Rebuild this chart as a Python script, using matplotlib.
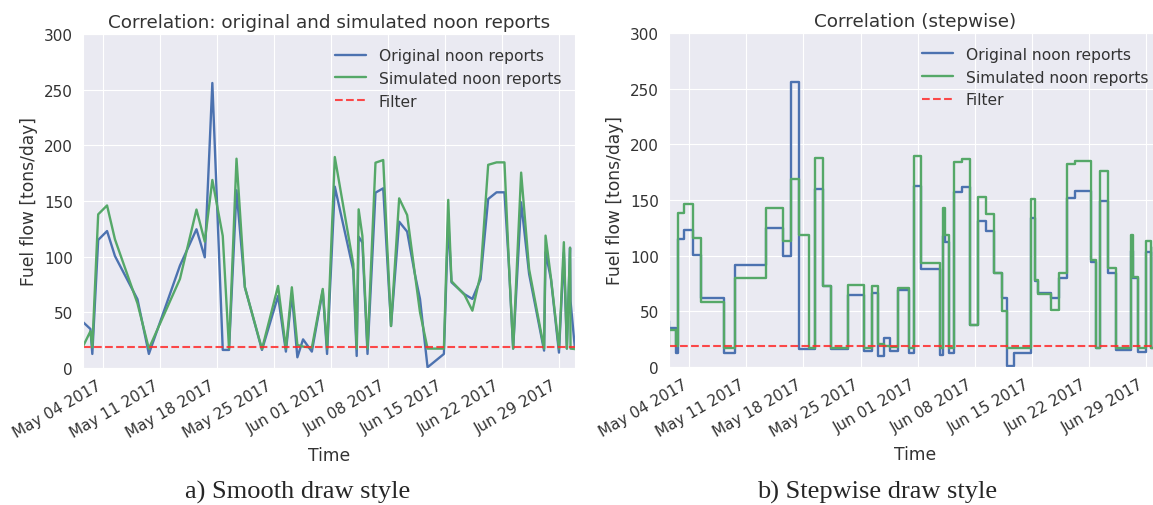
import matplotlib
matplotlib.use("Agg")
import matplotlib.pyplot as plt
import matplotlib.dates as mdates
import numpy as np
import pandas as pd
import seaborn as sns

# ------------------------------------------------------------------------------
# Noon report data: time in days after May 04 2017, fuel flow in tons/day

t0 = pd.Timestamp("2017-05-04")

days = [-2.55, -1.58, -1.35, -0.63, 0.46, 1.43, 4.2, 5.6, 9.42, 11.45,
        12.47, 13.4, 14.68, 15.45, 16.37, 17.4, 19.5, 21.48, 22.44, 23.17,
        23.85, 24.55, 25.63, 26.97, 27.5, 28.45, 30.72, 31.14, 31.38, 31.84,
        32.47, 33.45, 34.4, 35.36, 36.36, 37.34, 38.3, 38.92, 39.85, 41.86,
        42.39, 42.79, 44.4, 45.36, 46.36, 47.3, 48.33, 49.3, 49.83, 50.37,
        51.35, 52.33, 54.17, 54.35, 55.02, 56.0, 56.6, 56.97, 57.36, 57.42,
        57.97]

original = [41.6, 35.0, 12.6, 115.0, 123.0, 100.6, 61.7, 12.6, 92.0, 124.6,
            99.4, 256.0, 16.2, 16.2, 159.6, 72.5, 16.2, 64.7, 14.7, 66.5,
            9.6, 25.7, 14.7, 69.5, 12.6, 162.9, 88.0, 10.8, 118.0, 112.6,
            12.6, 157.5, 161.4, 37.7, 131.4, 122.5, 84.0, 62.0, 0.6, 12.6,
            133.5, 77.0, 66.2, 62.0, 79.6, 151.8, 157.8, 157.8, 94.6, 17.4,
            148.8, 84.4, 15.6, 104.0, 79.6, 13.8, 103.6, 17.4, 108.0, 60.0,
            17.0]

simulated = [18.6, 33.0, 18.5, 138.0, 146.0, 115.6, 58.0, 17.4, 80.0, 142.3,
             113.5, 168.9, 118.6, 17.4, 188.0, 72.5, 17.0, 73.7, 17.4, 72.5,
             20.7, 19.2, 18.3, 71.0, 17.4, 189.5, 93.4, 17.4, 142.5, 118.6,
             17.4, 184.4, 186.8, 37.7, 152.4, 137.4, 84.0, 50.0, 17.4, 17.4,
             151.0, 78.0, 65.6, 51.5, 84.0, 182.5, 184.7, 184.7, 96.1, 17.4,
             175.5, 88.7, 17.4, 118.9, 80.5, 17.4, 113.0, 17.4, 108.0, 17.4,
             17.0]

filter_level = 18.5

times = t0 + pd.to_timedelta(days, unit="D")

# ------------------------------------------------------------------------------

sns.set_style("darkgrid")
plt.rcParams["font.family"] = ["DejaVu Sans"]

blue = "#4C72B0"
green = "#55A868"
text_color = "#333333"

fig = plt.figure(figsize=(11.53, 5.06), dpi=100)
ax_l = fig.add_axes([0.0716, 0.2708, 0.4271, 0.660])
ax_r = fig.add_axes([0.5798, 0.2727, 0.4281, 0.6605])

panels = [(ax_l, "default", "Correlation: original and simulated noon reports"),
          (ax_r, "steps", "Correlation (stepwise)")]

for ax, style, title in panels:
  ax.plot(times, original, color=blue, lw=1.7, drawstyle=style,
          label="Original noon reports")
  ax.plot(times, simulated, color=green, lw=1.7, drawstyle=style,
          label="Simulated noon reports")
  ax.axhline(filter_level, color="#ff2a2a", lw=1.5, ls="--", alpha=0.85,
             label="Filter")

  ax.set_xlim(times[0], times[-1])
  ax.set_ylim(0, 300)
  ax.set_yticks(np.arange(0, 301, 50))
  ax.set_title(title, fontsize=13.2, color=text_color, pad=5)
  ax.set_ylabel("Fuel flow [tons/day]", fontsize=12.3, color=text_color)
  ax.set_xlabel("Time", fontsize=12.3, color=text_color)

  # Weekly ticks on Thursdays, rotated like autofmt_xdate
  ax.xaxis.set_major_locator(mdates.WeekdayLocator(byweekday=mdates.TH))
  ax.xaxis.set_major_formatter(mdates.DateFormatter("%b %d %Y"))
  ax.tick_params(labelsize=11, colors=text_color)
  plt.setp(ax.get_xticklabels(), rotation=30, ha="right")

  leg = ax.legend(loc="upper right", fontsize=11.2, frameon=False)
  for txt in leg.get_texts():
    txt.set_color(text_color)

# Captions under each panel
fig.text(0.258, 0.014, "a) Smooth draw style", family="Liberation Serif",
         fontsize=19, ha="center", va="baseline")
fig.text(0.761, 0.014, "b) Stepwise draw style", family="Liberation Serif",
         fontsize=19, ha="center", va="baseline")

fig.savefig("out.png", dpi=100, facecolor="white")
plt.close(fig)
